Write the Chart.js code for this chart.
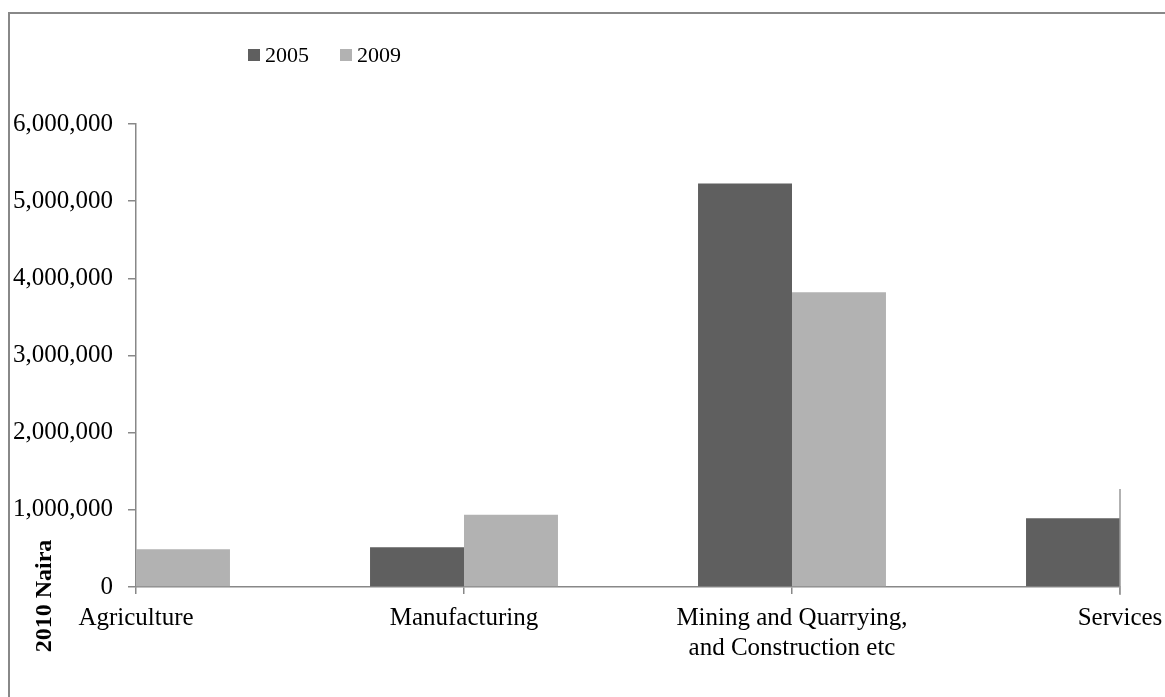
<!DOCTYPE html>
<html>
<head>
<meta charset="utf-8">
<script src="https://cdn.jsdelivr.net/npm/chart.js@4.4.1/dist/chart.umd.min.js"></script>
<style>
    body { margin: 0; background: #fff; }
    #frame { position: absolute; left: 8px; top: 12px; right: -4px; bottom: -4px; border-top: 2px solid #888; border-left: 2px solid #888; }
    #naira_chart { position: absolute; left: 0; top: 0; }
</style>
</head>
<body>
<div id="frame"></div>
<canvas id="naira_chart" width="1165" height="697"></canvas>
<script>
const sectors = ['Agriculture', 'Manufacturing', ['Mining and Quarrying,', 'and Construction etc'], 'Services'];
const years = ['2005', '2009'];
// first 2005 bar and last 2009 bar sit outside the plot area in the original, so they are not readable
const values2005 = [null, 515000, 5230000, 890000];
const values2009 = [490000, 935000, 3820000, null];
const yTicks = [0, 1000000, 2000000, 3000000, 4000000, 5000000, 6000000];

const serif = '"Liberation Serif", "DejaVu Serif", serif';
const axisGrey = '#888888';

const extras = {
    id: 'extras',
    afterDraw: function (chart) {
        const ctx = chart.ctx;
        const x = chart.scales.x;
        const y = chart.scales.y;

        // legend, drawn by hand so it can sit left of centre like the original
        ctx.save();
        ctx.font = '22px ' + serif;
        ctx.textBaseline = 'middle';
        let lx = 248;
        chart.data.datasets.forEach(function (ds) {
            ctx.fillStyle = ds.backgroundColor;
            ctx.fillRect(lx, 49, 12, 12);
            ctx.fillStyle = '#000';
            ctx.fillText(ds.label, lx + 17, 56);
            lx += 17 + ctx.measureText(ds.label).width + 31;
        });
        ctx.restore();

        // axis title, sitting low beside the zero tick
        ctx.save();
        ctx.translate(45, 596);
        ctx.rotate(-Math.PI / 2);
        ctx.font = 'bold 24px ' + serif;
        ctx.fillStyle = '#000';
        ctx.textAlign = 'center';
        ctx.textBaseline = 'middle';
        ctx.fillText('2010 Naira', 0, 0);
        ctx.restore();

        // short stray edge at the last category
        const px = x.getPixelForValue(sectors.length - 1);
        ctx.save();
        ctx.strokeStyle = '#999';
        ctx.lineWidth = 1.5;
        ctx.beginPath();
        ctx.moveTo(px, y.getPixelForValue(1270000));
        ctx.lineTo(px, chart.chartArea.bottom + 8);
        ctx.stroke();
        ctx.restore();
    }
};

const ctx = document.getElementById('naira_chart').getContext('2d');

const chart = new Chart(ctx, {
    type: 'bar',
    data: {
        labels: sectors,
        datasets: [{
            label: years[0],
            data: values2005,
            backgroundColor: '#5f5f5f',
            borderWidth: 0,
            clip: 0
        }, {
            label: years[1],
            data: values2009,
            backgroundColor: '#b2b2b2',
            borderWidth: 0,
            clip: 0
        }]
    },
    options: {
        responsive: false,
        animation: false,
        categoryPercentage: 0.573,
        barPercentage: 1.0,
        layout: {
            padding: { left: 0, right: 45, top: 124, bottom: 0 }
        },
        plugins: {
            tooltip: { enabled: false },
            legend: { display: false }
        },
        scales: {
            x: {
                offset: false,
                grid: {
                    display: true,
                    offset: false,
                    drawOnChartArea: false,
                    drawTicks: true,
                    tickLength: 7,
                    color: axisGrey,
                    lineWidth: 1.5
                },
                border: { color: axisGrey, width: 1.5 },
                ticks: {
                    color: '#000',
                    font: { family: serif, size: 25 },
                    maxRotation: 0,
                    autoSkip: false,
                    padding: 9
                },
                afterFit: function (scale) {
                    scale.height = 110;
                    scale.paddingLeft = 0;
                    scale.paddingRight = 0;
                }
            },
            y: {
                min: 0,
                max: 6000000,
                grid: {
                    drawOnChartArea: false,
                    drawTicks: true,
                    tickLength: 8,
                    color: axisGrey,
                    lineWidth: 1.5
                },
                border: { color: axisGrey, width: 1.5 },
                ticks: {
                    color: '#000',
                    font: { family: serif, size: 25 },
                    padding: 15,
                    callback: function (value) {
                        return value.toLocaleString('en-US');
                    }
                },
                afterBuildTicks: function (scale) {
                    scale.ticks = yTicks.map(v => ({ value: v }));
                },
                afterFit: function (scale) {
                    scale.width = 136;
                }
            }
        }
    },
    plugins: [extras]
});
</script>
</body>
</html>
